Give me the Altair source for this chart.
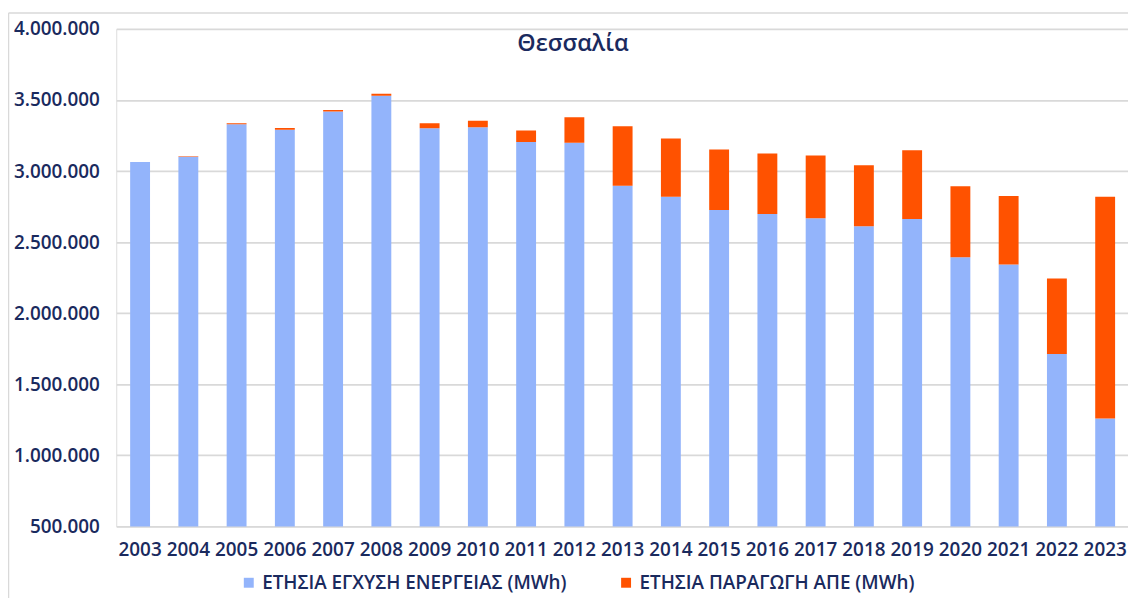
import altair as alt
import pandas as pd

years = [str(y) for y in range(2003, 2024)]
injection = [3064000, 3101000, 3329000, 3290000, 3420000, 3530000, 3301000, 3308000,
             3204000, 3199000, 2896000, 2819000, 2726000, 2698000, 2668000, 2612000,
             2663000, 2393000, 2342000, 1713000, 1259000]
res_prod = [0, 4000, 7000, 13000, 9000, 14000, 35000, 47000, 81000, 179000, 419000,
            410000, 426000, 426000, 442000, 429000, 483000, 501000, 482000, 531000, 1560000]

s1 = "ΕΤΗΣΙΑ ΕΓΧΥΣΗ ΕΝΕΡΓΕΙΑΣ (MWh)"
s2 = "ΕΤΗΣΙΑ ΠΑΡΑΓΩΓΗ ΑΠΕ (MWh)"

rows = []
for y, a, b in zip(years, injection, res_prod):
    rows.append({"year": y, "series": s1, "value": a, "ord": 0})
    rows.append({"year": y, "series": s2, "value": b, "ord": 1})
df = pd.DataFrame(rows)

NAVY = "#1a2a5e"
FONT = "Open Sans"
FS = 19
FW = 600
W, H = 1019, 501

bars = alt.Chart(df).mark_bar(clip=True).encode(
    x=alt.X("year:O", title=None,
            scale=alt.Scale(paddingInner=0.588, paddingOuter=0.278, align=0.519),
            axis=alt.Axis(labelAngle=0, domain=False, ticks=False, labelPadding=14,
                          labelFontSize=FS, labelColor=NAVY, labelFont=FONT,
                          labelFontWeight=FW)),
    y=alt.Y("value:Q", stack="zero", title=None,
            scale=alt.Scale(domain=[500000, 4000000], nice=False, zero=False),
            axis=alt.Axis(values=list(range(500000, 4000001, 500000)), domain=False, ticks=False,
                          labelExpr="replace(format(datum.value, ',d'), /,/g, '.')",
                          labelPadding=17, labelFontSize=FS, labelColor=NAVY, labelFont=FONT,
                          labelFontWeight=FW, gridColor="#d9d9d9", gridWidth=1.8)),
    color=alt.Color("series:N", sort=[s1, s2],
                    scale=alt.Scale(domain=[s1, s2], range=["#93b4fb", "#ff5200"]),
                    legend=alt.Legend(title=None, orient="none", direction="horizontal",
                                      legendX=124, legendY=548, symbolType="square",
                                      symbolSize=100, symbolStrokeWidth=0, labelFontSize=FS,
                                      labelColor=NAVY, labelFont=FONT, labelFontWeight=FW,
                                      columnPadding=50, labelOffset=4, labelLimit=600)),
    order=alt.Order("ord:Q"),
)

title = alt.Chart(pd.DataFrame({"t": ["Θεσσαλία"]})).mark_text(
    fontSize=23.5, font=FONT, fontWeight=FW, color=NAVY, align="center", baseline="middle"
).encode(text="t:N", x=alt.value(460), y=alt.value(15))

frame_left = alt.Chart(pd.DataFrame({"a": [0]})).mark_rule(color="#d9d9d9", strokeWidth=1.5).encode(
    x=alt.value(-108.5), y=alt.value(-16), y2=alt.value(H + 90))
frame_top = alt.Chart(pd.DataFrame({"a": [0]})).mark_rule(color="#d9d9d9", strokeWidth=1.5).encode(
    y=alt.value(-16), x=alt.value(-108.5), x2=alt.value(W + 20))

chart = alt.layer(frame_left, frame_top, bars, title).properties(
    width=W, height=H,
    autosize=alt.AutoSizeParams(type="none"),
    padding={"left": 109, "top": 19, "right": 0, "bottom": 70},
).configure_view(strokeWidth=0).configure(background="white")

chart.save("out.html", embed_options={"renderer": "svg", "actions": False})
